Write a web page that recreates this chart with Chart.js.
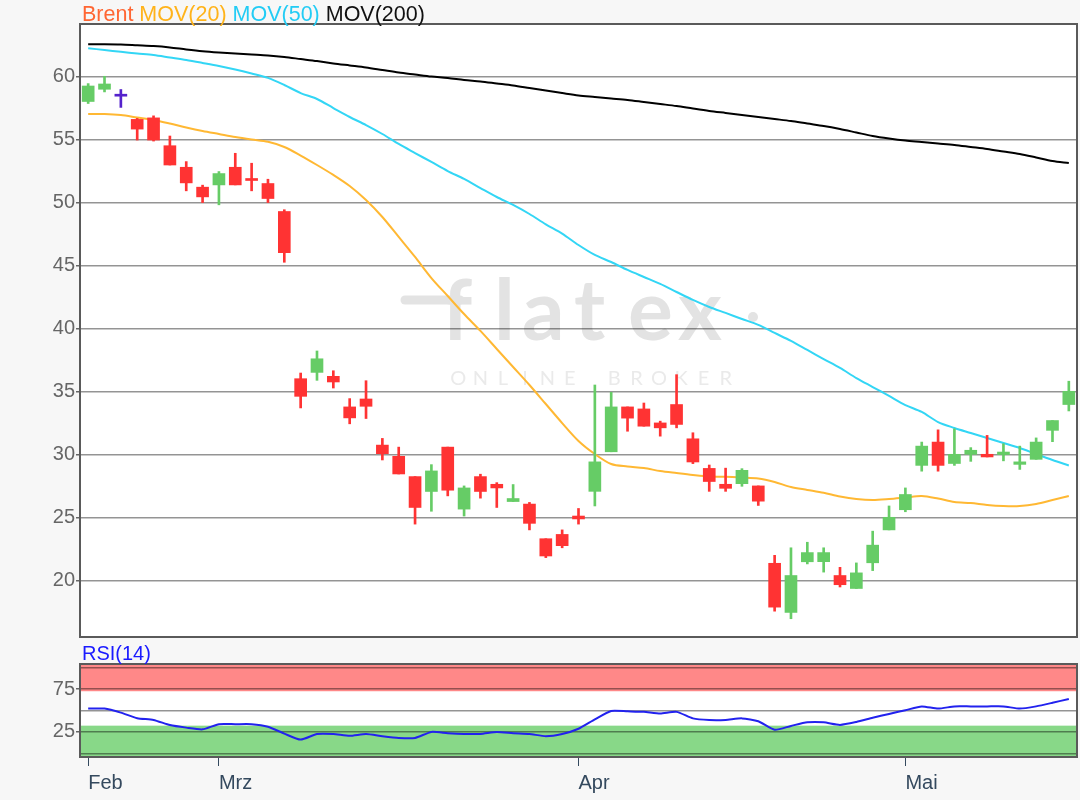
<!DOCTYPE html>
<html>
<head>
<meta charset="utf-8">
<script src="https://cdn.jsdelivr.net/npm/chart.js@4.4.1/dist/chart.umd.min.js"></script>
<style>
  html, body { margin: 0; padding: 0; background: #f7f7f7; }
  #wrap { position: relative; width: 1080px; height: 800px; overflow: hidden; }
  #mainChart { position: absolute; left: 0; top: 0; }
  #rsiChart { position: absolute; left: 0; top: 640px; }
</style>
</head>
<body>
<div id="wrap">
  <canvas id="mainChart" width="1080" height="660"></canvas>
  <canvas id="rsiChart" width="1080" height="160"></canvas>
</div>
<script>
// trading days shown (Brent, Feb - May 2020)
const dates = [
  '2020-02-19', '2020-02-20', '2020-02-21', '2020-02-24', '2020-02-25', '2020-02-26', '2020-02-27', '2020-02-28',
  '2020-03-02', '2020-03-03', '2020-03-04', '2020-03-05', '2020-03-06', '2020-03-09', '2020-03-10', '2020-03-11',
  '2020-03-12', '2020-03-13', '2020-03-16', '2020-03-17', '2020-03-18', '2020-03-19', '2020-03-20', '2020-03-23',
  '2020-03-24', '2020-03-25', '2020-03-26', '2020-03-27', '2020-03-30', '2020-03-31',
  '2020-04-01', '2020-04-02', '2020-04-03', '2020-04-06', '2020-04-07', '2020-04-08', '2020-04-09', '2020-04-14',
  '2020-04-15', '2020-04-16', '2020-04-17', '2020-04-20', '2020-04-21', '2020-04-22', '2020-04-23', '2020-04-24',
  '2020-04-27', '2020-04-28', '2020-04-29', '2020-04-30',
  '2020-05-04', '2020-05-05', '2020-05-06', '2020-05-07', '2020-05-08', '2020-05-11', '2020-05-12', '2020-05-13',
  '2020-05-14', '2020-05-15', '2020-05-18'
];

const priceOpen = [
  58.0, 58.97, 58.42, 56.58, 56.7, 54.49, 52.78, 51.2, 51.38, 52.78, 51.84, 51.49, 49.27,
  36.0, 36.5, 36.19, 33.76, 34.39, 30.73, 29.84, 28.23, 27.05, 30.57, 25.65, 28.23, 27.62, 26.25, 26.05, 23.3, 23.64,
  25.1, 27.06, 30.2, 33.76, 33.6, 32.49, 33.95, 31.23, 28.88, 27.62, 27.67, 27.49, 21.35, 17.45, 21.47, 21.48, 20.38,
  19.35, 21.39, 24.0, 25.6, 29.12, 30.97, 29.27, 30.0, 30.0, 29.98, 29.2, 29.6, 31.9, 33.95
];
const priceHigh = [
  59.42, 60.0, 58.95, 56.66, 56.86, 55.26, 53.23, 51.36, 52.44, 53.89, 53.1, 51.83, 49.41,
  36.45, 38.2, 36.63, 34.42, 35.84, 31.26, 30.57, 28.23, 29.18, 30.57, 27.49, 28.42, 27.75, 27.6, 26.18, 23.3, 24.0,
  25.7, 35.5, 34.92, 33.76, 34.07, 32.63, 36.32, 31.71, 29.15, 28.9, 28.86, 27.49, 21.98, 22.58, 23.02, 22.58, 21.03,
  21.38, 23.9, 25.9, 27.33, 30.97, 31.94, 32.02, 30.53, 31.5, 30.84, 30.65, 31.3, 32.68, 35.8
];
const priceLow = [
  57.84, 58.76, 57.53, 54.94, 54.86, 52.96, 50.91, 49.98, 49.8, 51.38, 50.91, 49.98, 45.24,
  33.68, 35.87, 35.26, 32.42, 32.84, 29.55, 28.44, 24.46, 25.48, 26.7, 25.1, 26.52, 25.78, 26.25, 24.0, 21.8, 22.58,
  24.46, 25.9, 30.2, 31.83, 32.23, 31.44, 32.1, 29.26, 27.06, 27.06, 27.46, 25.94, 17.55, 16.95, 21.3, 20.65, 19.47,
  19.35, 20.77, 24.0, 25.44, 28.66, 28.66, 29.12, 29.44, 29.79, 29.48, 28.8, 29.6, 31.0, 33.44
];
const priceClose = [
  59.23, 59.39, 58.42, 55.81, 54.94, 52.96, 51.54, 50.43, 52.28, 51.38, 51.73, 50.3, 46.0,
  34.6, 37.58, 35.74, 32.89, 33.81, 30.05, 28.44, 25.78, 28.68, 27.15, 27.33, 27.05, 27.33, 26.49, 24.52, 21.93, 22.75,
  24.87, 29.4, 33.76, 32.87, 32.23, 32.1, 32.37, 29.39, 27.84, 27.3, 28.73, 26.28, 17.87, 20.38, 22.2, 22.2, 19.65,
  20.59, 22.79, 25.0, 26.81, 30.65, 29.12, 30.0, 30.32, 29.79, 30.18, 29.4, 30.97, 32.68, 35.0
];

const mov20 = [
  57.01, 57.01, 56.93, 56.73, 56.53, 56.25, 55.94, 55.66, 55.42, 55.18, 54.98, 54.8, 54.39,
  53.71, 52.96, 52.17, 51.29, 50.18, 48.83, 47.25, 45.66, 43.99, 42.56, 41.13, 39.79, 38.36, 36.93, 35.5, 33.99, 32.48,
  31.06, 30.02, 29.23, 29.03, 28.91, 28.67, 28.51, 28.36, 28.24, 28.22, 28.16, 28.08, 27.8, 27.4, 27.17, 26.94, 26.65,
  26.45, 26.37, 26.45, 26.57, 26.69, 26.49, 26.21, 26.13, 25.98, 25.9, 25.9, 26.06, 26.37, 26.69
];
const mov50 = [
  62.22, 62.09, 61.94, 61.81, 61.69, 61.49, 61.29, 61.06, 60.82, 60.54, 60.22, 59.87, 59.31,
  58.67, 58.2, 57.48, 56.77, 56.13, 55.42, 54.63, 53.91, 53.2, 52.48, 51.85, 51.13, 50.42, 49.79, 49.07, 48.25, 47.52,
  46.61, 45.82, 45.26, 44.63, 44.07, 43.52, 42.88, 42.25, 41.69, 41.22, 40.74, 40.27, 39.63, 39.0, 38.28, 37.56, 36.85,
  36.05, 35.34, 34.63, 33.91, 33.36, 32.56, 32.09, 31.69, 31.29, 30.9, 30.5, 30.02, 29.55, 29.11
];
const mov200 = [
  62.54, 62.54, 62.52, 62.46, 62.4, 62.29, 62.13, 61.99, 61.89, 61.81, 61.73, 61.65, 61.53,
  61.37, 61.21, 61.02, 60.86, 60.7, 60.5, 60.3, 60.14, 59.98, 59.87, 59.71, 59.59, 59.43, 59.27, 59.07, 58.87, 58.67,
  58.48, 58.36, 58.24, 58.12, 57.96, 57.8, 57.64, 57.44, 57.25, 57.09, 56.93, 56.77, 56.61, 56.45, 56.25, 56.06, 55.82,
  55.54, 55.26, 55.06, 54.9, 54.79, 54.67, 54.55, 54.39, 54.23, 54.03, 53.83, 53.56, 53.28, 53.12
];
const rsi14 = [
  52.2, 52.2, 47.5, 41, 39, 33, 30, 28, 34, 34, 34, 31, 23,
  16, 22.5, 22.5, 20.5, 22.5, 20, 18, 18, 25, 23.5, 22.6, 22.6, 24.9, 23.5, 22.6, 20, 22.6,
  28.7, 39.7, 49.5, 49, 48.4, 46.5, 48.4, 40.8, 38.9, 39, 40.8, 37.5, 27.5, 32, 36.2, 36.2, 33.2,
  36.6, 41.5, 46, 50.3, 54.8, 52.2, 54.8, 54.8, 54.8, 54.8, 52.2, 54.8, 59, 63.5
];

const priceTicks = [20, 25, 30, 35, 40, 45, 50, 55, 60];
const rsiTicks = [0, 25, 50, 75, 100];
const rsiLabelTicks = [25, 75];
const rsiOverbought = [72.5, 104.3];
const rsiOversold = [-4.3, 32.3];
const monthNames = { '02': 'Feb', '03': 'Mrz', '04': 'Apr', '05': 'Mai' };

const FONT = '"Liberation Sans", Arial, sans-serif';
const GRID = 'rgba(0, 0, 0, 0.42)';
const UP = '#66cc66';
const DOWN = '#ff3333';
const DOJI = '#5522cc';

const candleColors = priceClose.map((c, i) => c > priceOpen[i] ? UP : (c < priceOpen[i] ? DOWN : DOJI));
const bodies = priceOpen.map((o, i) => [Math.min(o, priceClose[i]), Math.max(o, priceClose[i])]);
const wicks = priceLow.map((l, i) => [l, priceHigh[i]]);
const monthStarts = dates
  .map((d, i) => (i === 0 || d.slice(5, 7) !== dates[i - 1].slice(5, 7)) ? i : -1)
  .filter(i => i >= 0);

// white plot area, optional colored bands and the dark frame
const plotFrame = {
  id: 'plotFrame',
  beforeDraw(chart, args, opts) {
    const { ctx, chartArea: a } = chart;
    ctx.save();
    ctx.fillStyle = '#ffffff';
    ctx.fillRect(a.left, a.top, a.width, a.height);
    (opts.bands || []).forEach(b => {
      const y1 = Math.max(chart.scales.y.getPixelForValue(b.range[1]), a.top);
      const y2 = Math.min(chart.scales.y.getPixelForValue(b.range[0]), a.bottom);
      ctx.fillStyle = b.color;
      ctx.fillRect(a.left, y1, a.width, y2 - y1);
    });
    ctx.restore();
  },
  afterDatasetsDraw(chart) {
    const { ctx, chartArea: a } = chart;
    ctx.save();
    ctx.strokeStyle = '#5a5a5a';
    ctx.lineWidth = 2;
    ctx.strokeRect(a.left, a.top, a.width, a.height);
    ctx.restore();
  }
};

const watermark = {
  id: 'watermark',
  beforeDraw(chart) {
    const { ctx } = chart;
    ctx.save();
    ctx.fillStyle = '#e3e3e3';
    ctx.strokeStyle = '#e3e3e3';
    ctx.font = 'bold 84px Lato';
    ctx.textBaseline = 'alphabetic';
    [['f', 442], ['l', 494], ['a', 522], ['t', 574], ['e', 628], ['x', 678]].forEach(([ch, x]) => {
      ctx.fillText(ch, x, 340);
    });
    ctx.lineWidth = 9;
    ctx.lineCap = 'round';
    ctx.beginPath();
    ctx.moveTo(405, 300);
    ctx.lineTo(460, 300);
    ctx.stroke();
    ctx.beginPath();
    ctx.arc(753, 317, 5, 0, Math.PI * 2);
    ctx.fill();
    ctx.fillStyle = '#eaeaea';
    ctx.font = '20px Lato';
    ctx.textAlign = 'center';
    const word = 'ONLINE BROKER';
    const step = 290 / word.length;
    for (let i = 0; i < word.length; i++) {
      ctx.fillText(word[i], 447 + step * (i + 0.5), 385);
    }
    ctx.restore();
  }
};

const headLegend = {
  id: 'headLegend',
  afterDraw(chart) {
    const { ctx } = chart;
    ctx.save();
    ctx.font = '21.5px ' + FONT;
    ctx.textBaseline = 'alphabetic';
    let x = 82;
    [['Brent', '#ff6633'], ['MOV(20)', '#ffb31a'], ['MOV(50)', '#22ccf5'], ['MOV(200)', '#111111']].forEach(([t, c]) => {
      ctx.fillStyle = c;
      ctx.fillText(t, x, 21);
      x += ctx.measureText(t + ' ').width;
    });
    ctx.restore();
  }
};

const rsiTitle = {
  id: 'rsiTitle',
  afterDraw(chart) {
    const { ctx } = chart;
    ctx.save();
    ctx.font = '20px ' + FONT;
    ctx.fillStyle = '#1a1aff';
    ctx.fillText('RSI(14)', 82, 20);
    ctx.restore();
  }
};

new Chart(document.getElementById('mainChart'), {
  type: 'bar',
  data: {
    labels: dates,
    datasets: [
      {
        label: 'Brent',
        data: bodies,
        backgroundColor: candleColors,
        barThickness: 12,
        minBarLength: 2,
        grouped: false
      },
      {
        label: 'Brent range',
        data: wicks,
        backgroundColor: candleColors,
        barThickness: 2,
        grouped: false
      },
      { type: 'line', label: 'MOV(20)', data: mov20, borderColor: '#ffb833', borderWidth: 2, pointRadius: 0, tension: 0.3 },
      { type: 'line', label: 'MOV(50)', data: mov50, borderColor: '#33d6f5', borderWidth: 2, pointRadius: 0, tension: 0.3 },
      { type: 'line', label: 'MOV(200)', data: mov200, borderColor: '#000000', borderWidth: 2, pointRadius: 0, tension: 0.3 }
    ]
  },
  options: {
    responsive: false,
    animation: false,
    layout: { padding: { left: 0, right: 3, top: 24, bottom: 23 } },
    plugins: { legend: { display: false }, tooltip: { enabled: false } },
    scales: {
      x: { display: false, offset: true },
      y: {
        min: 15.5,
        max: 64.15,
        afterFit: (s) => { s.width = 80; },
        afterBuildTicks: (s) => { s.ticks = priceTicks.map(v => ({ value: v })); },
        border: { display: false },
        grid: { color: GRID, lineWidth: 1.5, tickLength: 4, tickColor: '#666' },
        ticks: { autoSkip: false, padding: 1, color: '#666', font: { family: FONT, size: 20 } }
      }
    }
  },
  plugins: [plotFrame, watermark, headLegend]
});

new Chart(document.getElementById('rsiChart'), {
  type: 'line',
  data: {
    labels: dates,
    datasets: [
      { label: 'RSI(14)', data: rsi14, borderColor: '#2222ee', borderWidth: 2, pointRadius: 0, tension: 0.2 }
    ]
  },
  options: {
    responsive: false,
    animation: false,
    layout: { padding: { left: 0, right: 3, top: 24, bottom: 0 } },
    plugins: {
      legend: { display: false },
      tooltip: { enabled: false },
      plotFrame: {
        bands: [
          { range: rsiOverbought, color: '#ff8888' },
          { range: rsiOversold, color: '#88d888' }
        ]
      }
    },
    scales: {
      x: {
        offset: true,
        afterBuildTicks: (s) => { s.ticks = monthStarts.map(i => ({ value: i })); },
        border: { display: false },
        grid: { drawOnChartArea: false, offset: false, tickLength: 9, color: '#34495e' },
        ticks: {
          autoSkip: false,
          maxRotation: 0,
          align: 'start',
          padding: 5,
          color: '#34495e',
          font: { family: FONT, size: 20 },
          callback: (v) => monthNames[dates[v].slice(5, 7)]
        }
      },
      y: {
        min: -4.3,
        max: 104.3,
        afterFit: (s) => { s.width = 80; },
        afterBuildTicks: (s) => { s.ticks = rsiTicks.map(v => ({ value: v })); },
        border: { display: false },
        grid: {
          color: GRID,
          lineWidth: 1.5,
          tickLength: 4,
          tickColor: (c) => rsiLabelTicks.includes(c.tick && c.tick.value) ? '#666' : 'rgba(0,0,0,0)'
        },
        ticks: {
          autoSkip: false,
          padding: 1,
          color: '#666',
          font: { family: FONT, size: 20 },
          callback: (v) => rsiLabelTicks.includes(v) ? String(v) : ''
        }
      }
    }
  },
  plugins: [plotFrame, rsiTitle]
});
</script>
</body>
</html>
